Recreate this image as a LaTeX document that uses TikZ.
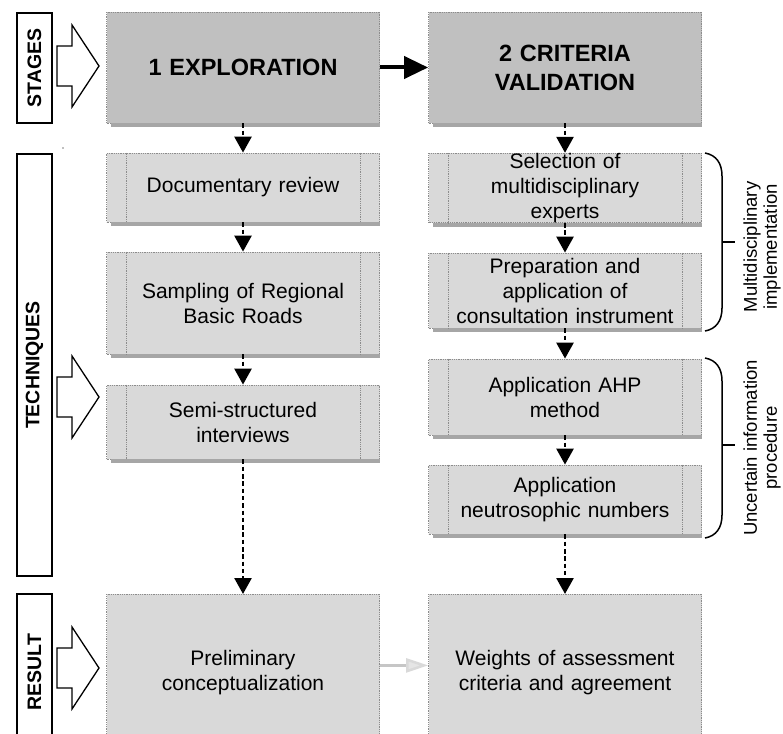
\documentclass[tikz,border=0pt]{standalone}
\usepackage{fontspec}
\setmainfont{Liberation Sans}
\usetikzlibrary{arrows.meta}
\definecolor{stagefill}{HTML}{C0C0C0}
\definecolor{techfill}{HTML}{D9D9D9}
\definecolor{shadowc}{HTML}{A6A6A6}
\definecolor{edgec}{HTML}{8C8C8C}
\tikzset{
 box/.style={rectangle, fill=techfill, draw=edgec, densely dotted, line width=0.8pt, align=center, inner sep=0pt},
 stagebox/.style={box, fill=stagefill, minimum width=273pt, minimum height=111pt, text width=260pt, font=\bfseries\fontsize{23.5}{29}\selectfont},
 techbox/.style={box, minimum width=273pt, text width=232pt, font=\fontsize{21}{25}\selectfont},
 resbox/.style={box, anchor=north, minimum width=273pt, minimum height=156pt, text width=250pt, font=\fontsize{21}{25}\selectfont},
 sidebox/.style={rectangle, draw=black, line width=1.8pt, rotate=90, minimum height=35pt, inner sep=0pt, font=\bfseries\fontsize{19.5}{22}\selectfont},
 darr/.style={draw=black, line width=2.6pt, dash pattern=on 4.5pt off 2.8pt, -{Triangle[width=17pt,length=16pt]}},
 blockarr/.style={draw=black, line width=1.3pt, fill=white, line join=miter},
 bracepath/.style={draw=black, line width=1.5pt},
 bracelabel/.style={rotate=90, align=center, font=\fontsize{18.5}{20}\selectfont},
 innerl/.style={draw=edgec, densely dotted, line width=0.8pt},
}
\newcommand\myblockarrow[1]{\draw[blockarr] (#1) ++(0,-20) -- ++(15,0) -- ++(0,-21) -- ++(27,41) -- ++(-27,41) -- ++(0,-21) -- ++(-15,0) -- cycle;}
\begin{document}
\begin{tikzpicture}[x=1pt,y=-1pt]
\clip (0,0) rectangle (783,733);
\fill[white] (0,0) rectangle (783,733);
% side labels
\node[sidebox, minimum width=110pt] (stg) at (34.5,68) {STAGES};
\node[sidebox, minimum width=422pt] (tech) at (34.5,365) {TECHNIQUES};
\node[sidebox, minimum width=156pt] (res) at (34.5,672) {RESULT};
\coordinate (ba1) at (57,66);
\coordinate (ba2) at (57,397);
\coordinate (ba3) at (57,668);
\myblockarrow{ba1}
\myblockarrow{ba2}
\myblockarrow{ba3}
\fill[gray] (63,148) circle (0.8pt);
% stages
\node[stagebox] (s1) at (243,67.5) {1 EXPLORATION};
\node[stagebox] (s2) at (565,67.5) {2 CRITERIA\\VALIDATION};
% techniques
\node[techbox, minimum height=69pt] (doc) at (243,187.5) {Documentary review};
\node[techbox, minimum height=102pt] (samp) at (243,303) {Sampling of Regional\\Basic Roads};
\node[techbox, minimum height=74pt] (semi) at (243,422) {Semi-structured\\interviews};
\node[techbox, minimum height=68pt] (sel) at (565,188) {Selection of\\multidisciplinary\\experts};
\node[techbox, minimum height=75pt] (prep) at (565,290.5) {Preparation and\\application of\\consultation instrument};
\node[techbox, minimum height=76pt] (ahp) at (565,397) {Application AHP\\method};
\node[techbox, minimum height=69pt] (neu) at (565,499.5) {Application\\neutrosophic numbers};
% results
\node[resbox] (res1) at (243,594) {Preliminary\\conceptualization};
\node[resbox] (res2) at (565,594) {Weights of assessment\\criteria and agreement};
% shadows and inner lines
\foreach \n in {s1,s2,doc,samp,semi,sel,prep,ahp,neu}{
  \fill[shadowc] ([xshift=5pt]\n.south west) rectangle ([yshift=-4pt]\n.south east);
}
\foreach \n in {doc,samp,semi,sel,prep,ahp,neu}{
  \draw[innerl] ([xshift=20pt]\n.north west) -- ([xshift=20pt]\n.south west);
  \draw[innerl] ([xshift=-20pt]\n.north east) -- ([xshift=-20pt]\n.south east);
}
% arrows
\draw[line width=4pt, -{Triangle[width=22pt,length=24pt]}] (s1.east) -- (s2.west);
\draw[darr] (s1.south) -- (doc.north);
\draw[darr] (doc.south) -- (samp.north);
\draw[darr] (samp.south) -- (semi.north);
\draw[darr] (semi.south) -- (res1.north);
\draw[darr] (s2.south) -- (sel.north);
\draw[darr] (sel.south) -- (prep.north);
\draw[darr] (prep.south) -- (ahp.north);
\draw[darr] (ahp.south) -- (neu.north);
\draw[darr] (neu.south) -- (res2.north);
\draw[draw=gray!45, line width=2.5pt, -{Triangle[width=14pt,length=22pt,fill=gray!20,color=gray!30]}] ([yshift=7pt]res1.east) -- ([yshift=7pt]res2.west);
% braces
\coordinate (b1t) at (705,153);
\coordinate (b1b) at (705,331);
\coordinate (b1m) at (722,242);
\coordinate (b1k) at (735,242);
\draw[bracepath] (b1t) .. controls (716,155) and (722,163) .. (722,176) -- (722,308) .. controls (722,321) and (716,329) .. (b1b);
\draw[bracepath] (b1m) -- (b1k);
\coordinate (b2t) at (705,358);
\coordinate (b2b) at (705,538);
\coordinate (b2m) at (722,445);
\coordinate (b2k) at (735,445);
\draw[bracepath] (b2t) .. controls (716,360) and (722,368) .. (722,381) -- (722,515) .. controls (722,528) and (716,536) .. (b2b);
\draw[bracepath] (b2m) -- (b2k);
\node[bracelabel] (l1) at (762,247) {Multidisciplinary\\implementation};
\node[bracelabel] (l2) at (762,448) {Uncertain information\\procedure};
\end{tikzpicture}
\end{document}
